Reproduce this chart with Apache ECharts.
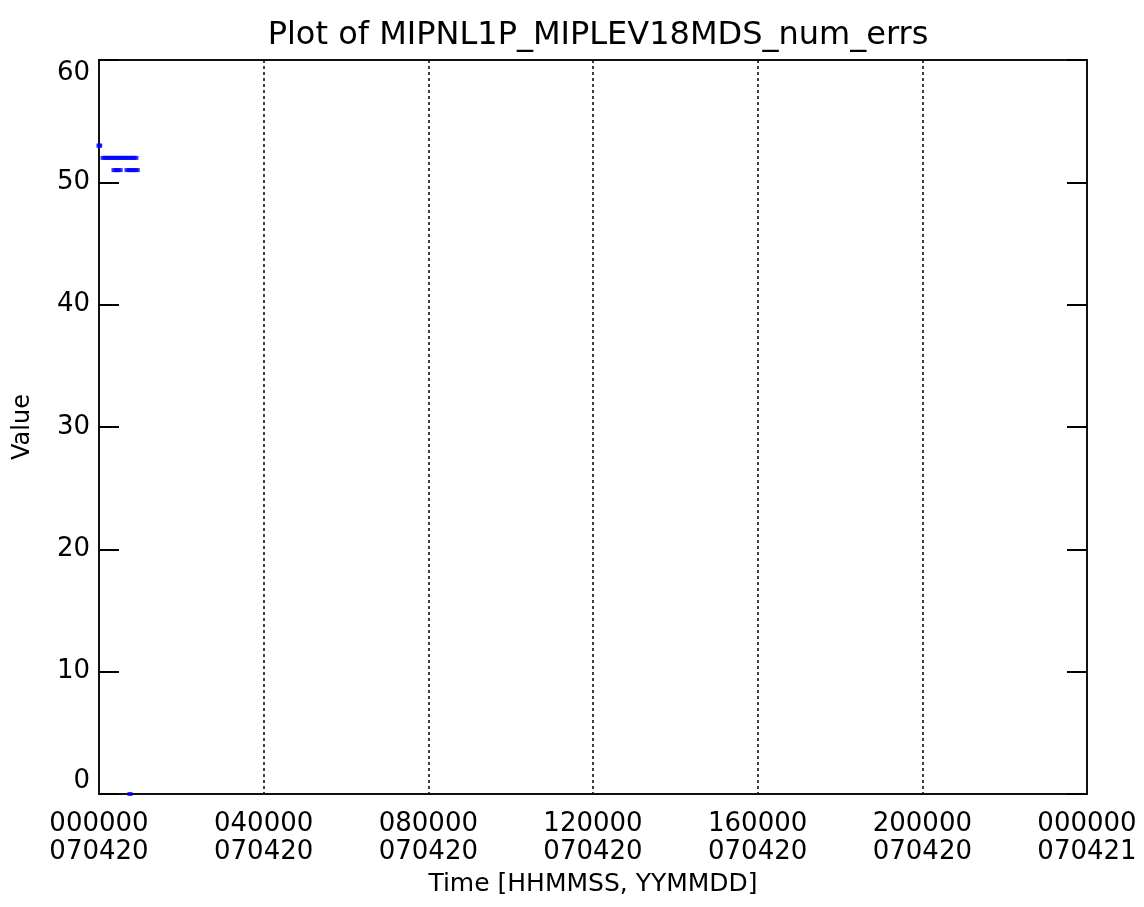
<!DOCTYPE html>
<html>
<head>
<meta charset="utf-8">
<script src="https://cdn.jsdelivr.net/npm/echarts@6/dist/echarts.min.js"></script>
<style>
html,body{margin:0;padding:0;background:#fff;}
#chart{width:1144px;height:907px;}
</style>
</head>
<body>
<div id="chart"></div>
<script>
// Time in seconds since 000000 070420
const xTickValues = [0, 14400, 28800, 43200, 57600, 72000, 86400];
const xTickLabels = ['000000\n070420', '040000\n070420', '080000\n070420', '120000\n070420', '160000\n070420', '200000\n070420', '000000\n070421'];
const yTicks = [0, 10, 20, 30, 40, 50, 60];

const times = [0, 60,
  350, 530, 710, 890, 1070, 1250, 1430, 1610, 1790, 1970, 2150, 2330, 2510, 2690, 2870, 3050, 3230,
  1310, 1490, 1670, 1850, 2450, 2630, 2810, 2990, 3170, 3350,
  2710];
const values = [53, 53,
  52, 52, 52, 52, 52, 52, 52, 52, 52, 52, 52, 52, 52, 52, 52, 52, 52,
  51, 51, 51, 51, 51, 51, 51, 51, 51, 51,
  0];

const labelMap = {};
xTickValues.forEach((v, i) => labelMap[v] = xTickLabels[i]);

const font = 'DejaVu Sans';
const chart = echarts.init(document.getElementById('chart'));
chart.setOption({
  animation: false,
  backgroundColor: '#fff',
  title: {
    text: 'Plot of MIPNL1P_MIPLEV18MDS_num_errs',
    left: 593, top: 15, textAlign: 'center',
    textStyle: {fontFamily: font, fontSize: 32, fontWeight: 'normal', color: '#000'}
  },
  grid: {left: 99, right: 57, top: 60, bottom: 113, show: true, borderColor: '#111', borderWidth: 2, backgroundColor: 'transparent'},
  xAxis: {
    type: 'value', min: 0, max: 86400, interval: 14400,
    name: 'Time [HHMMSS, YYMMDD]', nameLocation: 'middle', nameGap: 78,
    nameTextStyle: {fontFamily: font, fontSize: 25, color: '#000'},
    axisLine: {show: true, lineStyle: {color: '#111', width: 2}},
    axisTick: {show: false},
    splitLine: {show: true, lineStyle: {color: '#000', type: [3, 3], width: 1.5}},
    axisLabel: {
      fontFamily: font, fontSize: 26, color: '#000', margin: 16, lineHeight: 28,
      formatter: v => labelMap[v] || ''
    }
  },
  yAxis: [{
    type: 'value', min: 0, max: 60, interval: 10,
    name: 'Value', nameLocation: 'middle', nameGap: 64, nameRotate: 90,
    nameTextStyle: {fontFamily: font, fontSize: 24, color: '#000'},
    axisLine: {show: true, lineStyle: {color: '#111', width: 2}},
    axisTick: {show: true, inside: true, length: 20, lineStyle: {color: '#000', width: 2}},
    splitLine: {show: false},
    axisLabel: {fontFamily: font, fontSize: 26, color: '#000', margin: 9,
      verticalAlignMaxLabel: 'top', verticalAlignMinLabel: 'bottom'}
  }, {
    type: 'value', min: 0, max: 60, interval: 10, position: 'right',
    axisLine: {show: true, lineStyle: {color: '#111', width: 2}},
    axisTick: {show: true, inside: true, length: 20, lineStyle: {color: '#000', width: 2}},
    splitLine: {show: false},
    axisLabel: {show: false}
  }],
  series: [{
    type: 'scatter',
    symbol: 'rect',
    symbolSize: [5, 4],
    itemStyle: {color: '#0000ff'},
    data: times.map((t, i) => [t, values[i]])
  }]
});
</script>
</body>
</html>
